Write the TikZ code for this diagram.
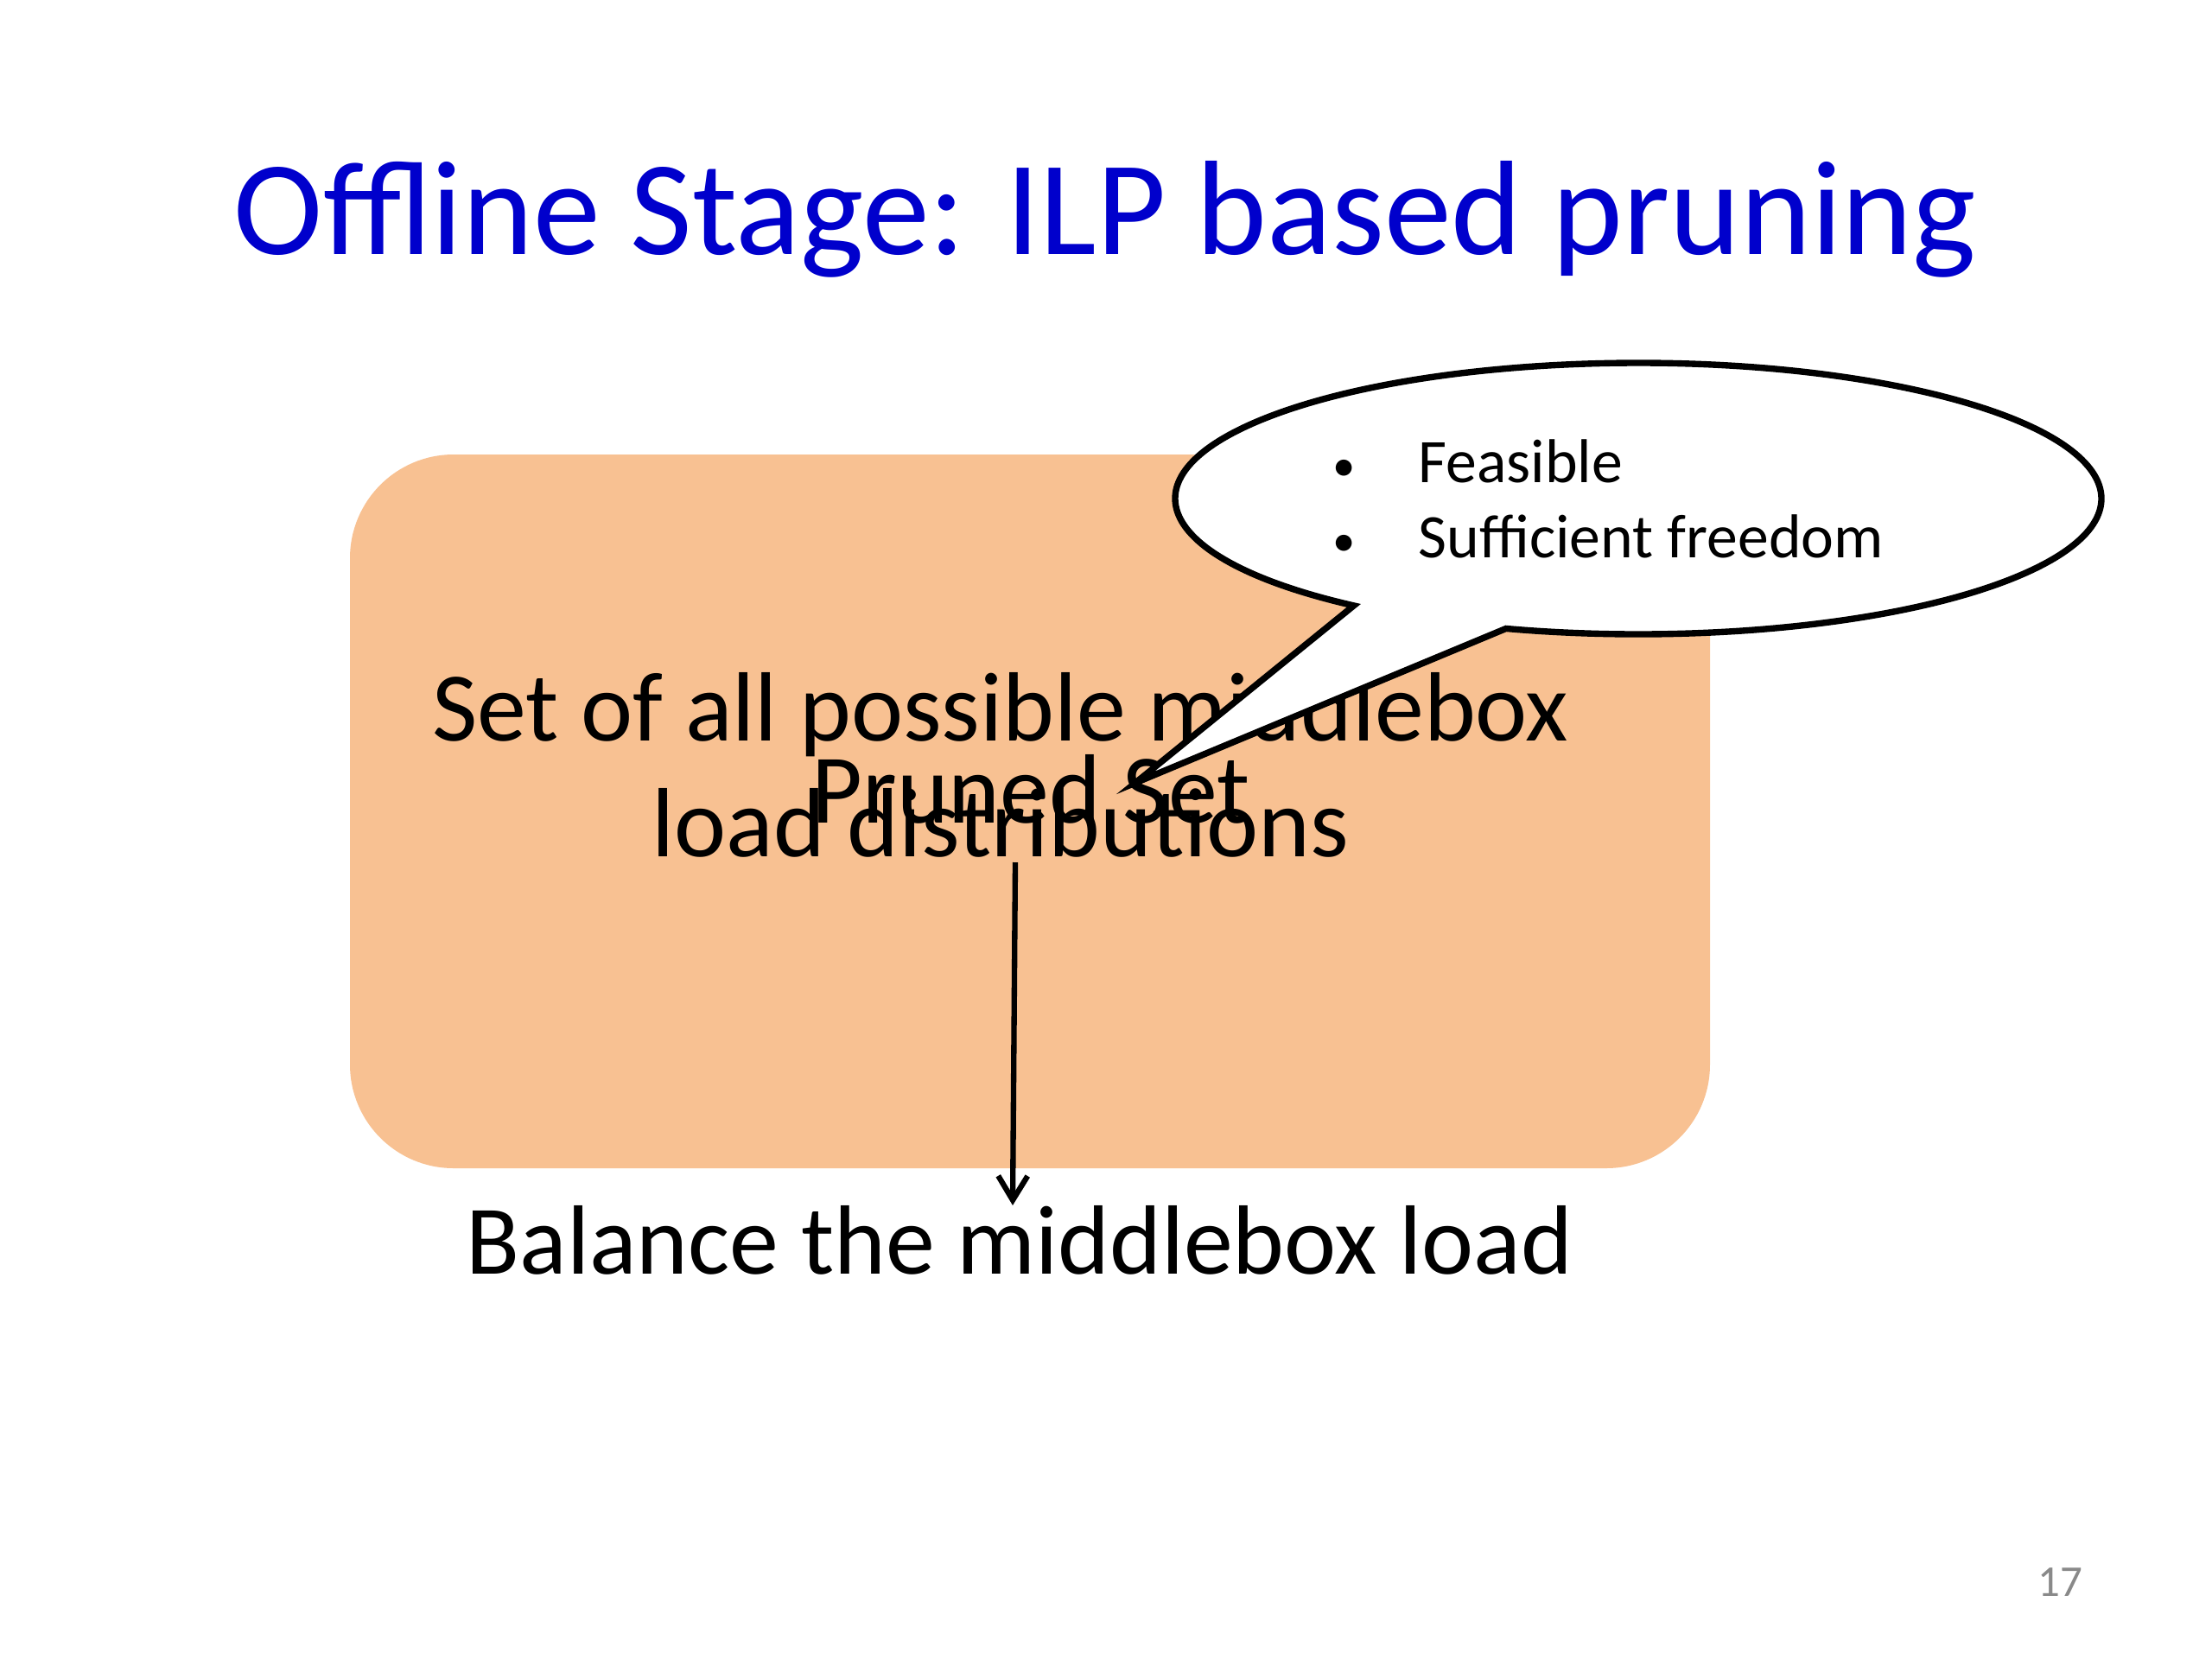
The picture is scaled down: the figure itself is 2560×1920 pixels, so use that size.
\documentclass[tikz,border=0pt]{standalone}
\usepackage{fontspec}
\setmainfont{Carlito}
\usetikzlibrary{arrows.meta,calc}
\definecolor{titleblue}{RGB}{0,0,204}
\definecolor{boxfill}{RGB}{248,193,146}
\definecolor{pagegray}{RGB}{137,137,137}
\tikzset{
  title/.style={font=\fontsize{44.3}{53}\selectfont, text=titleblue, inner sep=0pt, anchor=base},
  bigtext/.style={font=\fontsize{32.4}{39}\selectfont, inner sep=0pt, anchor=base},
  bullettext/.style={font=\fontsize{20.4}{25}\selectfont, inner sep=0pt},
  bulletdot/.style={font=\fontsize{15}{18}\selectfont, inner sep=0pt, anchor=base},
  setbox/.style={fill=boxfill, draw=none, rounded corners=12mm, inner sep=0pt, minimum width=157.4mm, minimum height=82.6mm},
  callout/.style={draw=black, fill=white, line width=2.1pt, line join=miter},
  arr/.style={draw=black, line width=1.8pt, -{Straight Barb[length=2.8mm,width=3.4mm]}}
}
\begin{document}
\begin{tikzpicture}[x=0.1mm,y=-0.1mm]
\path[use as bounding box, fill=white] (0,0) rectangle (2560,1920);
% title
\node[title] (ttl) at (1279,294) {Offline Stage: ILP based pruning};
% orange box
\node[setbox] (box) at (1192,939) {};
\node[bigtext] (l1) at (1158,857) {Set of all possible middlebox};
\node[bigtext] (l2) at (1158,991) {load distributions};
\node[bigtext] (ps) at (1193,952) {Pruned Set};
% callout
\coordinate (ec) at (1896,577);
\coordinate (tip) at (1314,906);
\draw[callout] (tip) -- ($(ec)+(127.9:536 and 157)$)
  arc[start angle=127.9, end angle=466.6, x radius=536, y radius=157] -- cycle;
\node[bulletdot] (b1) at (1556,556) {\textbullet};
\node[bullettext, anchor=base west] (f1) at (1641,558) {Feasible};
\node[bulletdot] (b2) at (1556,643) {\textbullet};
\node[bullettext, anchor=base west] (f2) at (1641,645) {Sufficient freedom};
% bottom text and arrow
\node[bigtext] (bal) at (1180,1474) {Balance the middlebox load};
\coordinate (a1) at (1175,998);
\coordinate (a2) at (1172,1395);
\draw[arr] (a1) -- (a2);
% page number
\node[font=\fontsize{14.5}{17}\selectfont, text=pagegray, inner sep=0pt, anchor=base] (pg) at (2384,1847) {17};
\end{tikzpicture}
\end{document}
